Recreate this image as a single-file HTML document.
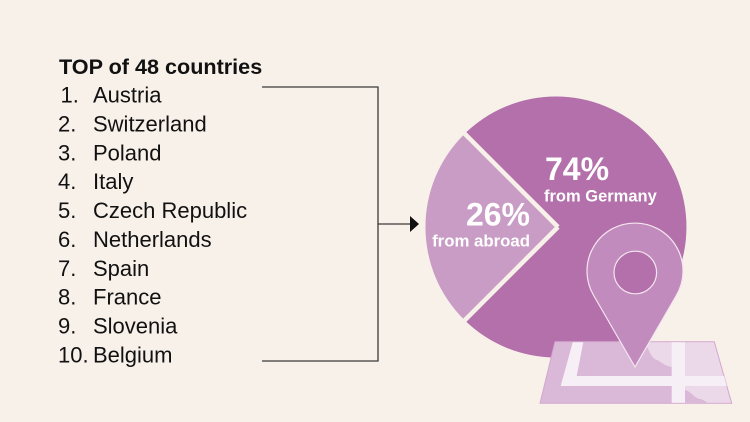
<!DOCTYPE html>
<html><head><meta charset="utf-8"><style>
html,body{margin:0;padding:0;background:#f8f1ea;}
svg{display:block;}
text{font-family:"Liberation Sans",sans-serif;}
</style></head><body>
<svg width="750" height="422" viewBox="0 0 750 422" xmlns="http://www.w3.org/2000/svg">
<rect width="750" height="422" fill="#f8f1ea"/>
<!-- list -->
<text x="59" y="74" font-size="21.6" font-weight="bold" fill="#111">TOP of 48 countries</text>
<g font-size="22" fill="#111">
<text x="60.5" y="102.7">1.</text><text x="93" y="102.7">Austria</text>
<text x="58" y="131.5">2.</text><text x="93" y="131.5">Switzerland</text>
<text x="58" y="160.4">3.</text><text x="93" y="160.4">Poland</text>
<text x="58" y="189.2">4.</text><text x="93" y="189.2">Italy</text>
<text x="58" y="218.1">5.</text><text x="93" y="218.1">Czech Republic</text>
<text x="58" y="246.9">6.</text><text x="93" y="246.9">Netherlands</text>
<text x="58" y="275.8">7.</text><text x="93" y="275.8">Spain</text>
<text x="58" y="304.6">8.</text><text x="93" y="304.6">France</text>
<text x="58" y="333.5">9.</text><text x="93" y="333.5">Slovenia</text>
<text x="58" y="362.3">10.</text><text x="93" y="362.3">Belgium</text>
</g>
<!-- bracket -->
<polyline points="262,87 378,87 378,361 262,361" fill="none" stroke="#3a3a3a" stroke-width="1.3"/>
<line x1="378" y1="224" x2="411" y2="224" stroke="#3a3a3a" stroke-width="1.3"/>
<polygon points="410,216 419,224 410,232" fill="#111"/>
<!-- pie -->
<path d="M556 227 L463.7 134.7 A130.5 130.5 0 1 1 463.7 319.3 Z" fill="#b370ab"/>
<path d="M556 227 L463.7 134.7 A130.5 130.5 0 0 0 463.7 319.3 Z" fill="#c99cc6"/>
<line x1="558" y1="227" x2="461" y2="130" stroke="#f8f1ea" stroke-width="4.5"/>
<line x1="558" y1="227" x2="461" y2="324" stroke="#f8f1ea" stroke-width="4.5"/>
<g fill="#fff" font-weight="bold">
<text x="545" y="180" font-size="32">74%</text>
<text x="544" y="201.5" font-size="16.5">from Germany</text>
<text x="530" y="225.5" font-size="32" text-anchor="end">26%</text>
<text x="530" y="246.5" font-size="16.8" text-anchor="end">from abroad</text>
</g>
<!-- map -->
<polygon points="555,341.7 714.3,341.7 731.7,403.3 540,403.3" fill="#dab8d7" stroke="#d3a7cf" stroke-width="1"/>
<polygon points="685,342.2 713.9,342.2 731,402.8 685,402.8" fill="#ebd9ea"/>
<path d="M685 390 C692 392 694 398 700 399 C704 400 706 402 708 402.8 L685 402.8 Z" fill="#dab8d7"/>
<path d="M645 342.2 L672 342.2 L672 367 C664 366 662 362 657 360 C651 358 650 352 645 342.2 Z" fill="#ebd9ea"/>
<polygon points="572.7,342.2 583.3,342.2 576.7,376 724,376 726.8,386 560.7,386" fill="#f6eff5"/>
<rect x="671.7" y="342.2" width="13.3" height="60.6" fill="#f6eff5"/>
<!-- pin -->
<path d="M635 367 L593.4 295 A48 48 0 1 1 676.6 295 Z" fill="#c28bbd" stroke="#f4e6ef" stroke-width="1.2" stroke-linejoin="round"/>
<circle cx="635.3" cy="272.5" r="21.3" fill="#b370ab" stroke="#f4e6ef" stroke-width="1.2"/>
</svg>
</body></html>
